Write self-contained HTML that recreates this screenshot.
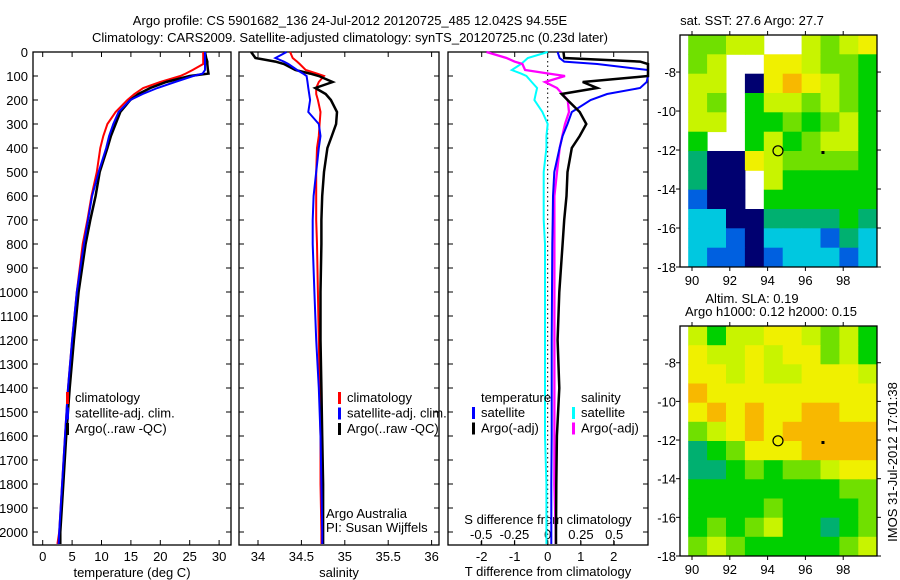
<!DOCTYPE html>
<html><head><meta charset="utf-8"><style>
body{margin:0;background:#fff;}
svg{display:block;font-family:"Liberation Sans",sans-serif;}
text{font-size:13px;fill:#000;}
</style></head><body>
<svg id="s" width="900" height="580" viewBox="0 0 900 580">
<text x="350" y="25" text-anchor="middle">Argo profile: CS 5901682_136 24-Jul-2012 20120725_485 12.042S 94.55E</text>
<text x="350" y="42" text-anchor="middle">Climatology: CARS2009. Satellite-adjusted climatology: synTS_20120725.nc (0.23d later)</text>
</svg>
<script>
const depths=[0,25,40,50,75,90,100,125,150,175,200,250,300,350,400,500,600,700,800,1000,1200,1400,1600,1800,2000,2050];
const tClim=[27.3,27.3,27.3,27.3,25.5,24.3,23.4,20.0,17.1,15.6,14.4,12.4,11.0,10.3,9.8,9.2,8.3,7.6,6.8,5.8,5.0,4.3,3.8,3.3,2.8,2.5];
const tSat=[27.6,27.6,27.6,27.6,27.6,27.2,25.6,22.5,19.5,17.0,14.9,12.9,12.0,11.3,10.8,9.5,8.4,7.7,7.0,5.8,5.0,4.3,3.8,3.3,2.8,2.7];
const tArgo=[27.6,27.8,28.0,28.0,28.1,28.2,25.0,21.0,18.3,16.3,14.9,13.2,12.4,11.6,11.0,9.7,9.0,8.1,7.3,6.1,5.3,4.6,4.0,3.5,3.0,3.0];
const sClim=[34.37,34.40,34.45,34.48,34.55,34.68,34.76,34.70,34.67,34.67,34.69,34.72,34.71,34.70,34.68,34.67,34.67,34.67,34.68,34.69,34.70,34.71,34.72,34.72,34.73,34.73];
const sSat=[34.33,34.20,34.30,34.35,34.45,34.52,34.56,34.57,34.58,34.59,34.60,34.58,34.70,34.72,34.70,34.67,34.64,34.63,34.63,34.65,34.67,34.70,34.72,34.73,34.74,34.74];
const sArgo=[33.92,33.97,34.20,34.30,34.43,34.60,34.70,34.86,34.66,34.78,34.84,34.91,34.90,34.85,34.80,34.76,34.74,34.73,34.73,34.72,34.72,34.73,34.74,34.75,34.75,34.75];
const dTSat=[0.3,0.36,0.5,1.5,3.2,3.2,3.2,3.0,2.8,1.8,1.3,0.73,0.6,0.45,0.36,0.2,0.16,0.15,0.14,0.13,0.12,0.12,0.12,0.11,0.11,0.11];
const dTArgo=[0.48,0.5,2.8,3.2,3.2,3.2,3.2,1.06,1.5,0.42,0.6,0.97,1.17,0.97,0.73,0.6,0.57,0.5,0.45,0.35,0.3,0.35,0.28,0.26,0.25,0.25];
const dSSat=[0,-0.15,-0.18,-0.2,-0.27,-0.2,-0.16,-0.12,-0.08,-0.09,-0.1,-0.04,0,-0.01,-0.01,-0.03,-0.03,-0.03,-0.02,-0.02,-0.02,-0.02,-0.02,-0.01,-0.01,-0.01];
const dSArgo=[-0.46,-0.31,-0.25,-0.19,-0.17,0.01,0.13,-0.02,0.07,0.11,0.15,0.16,0.13,0.11,0.09,0.07,0.05,0.05,0.05,0.05,0.05,0.05,0.05,0.05,0.06,0.06];
const depthTicks=[0,100,200,300,400,500,600,700,800,900,1000,1100,1200,1300,1400,1500,1600,1700,1800,1900,2000];
const tTicks=[0,5,10,15,20,25,30];
const sTicks=[34,34.5,35,35.5,36];
const dTTicks=[-2,-1,0,1,2];
const dSTicks=[-0.5,-0.25,0,0.25,0.5];
const dSLabels=["-0.5","-0.25","0","0.25","0.5"];
const lonTicks=[90,92,94,96,98];
const latTicks=[-8,-10,-12,-14,-16,-18];
const sstGrid=[
[5,5,6,6,-1,-1,6,5,6,7],[5,6,-1,-1,7,7,6,5,5,4],[6,6,-1,0,7,8,7,6,5,4],[6,5,-1,4,6,6,5,6,5,4],
[6,6,-1,4,4,5,4,5,6,4],[4,-1,-1,4,6,4,5,6,6,4],[3,0,0,7,6,5,5,5,5,4],[3,0,0,-1,6,4,4,4,4,4],
[1,0,0,-1,4,4,4,4,4,4],[2,2,0,0,3,3,3,3,4,3],[2,2,1,0,2,2,2,1,3,2],[2,1,1,0,1,2,2,2,1,2]];
const slaGrid=[
[6,4,6,6,7,7,6,5,6,4],[7,6,6,7,6,7,7,5,6,4],[7,7,6,7,6,6,7,7,7,6],[8,7,7,7,7,7,7,7,7,7],
[7,8,7,8,7,7,8,8,7,7],[5,6,7,8,7,8,8,8,8,8],[3,4,5,7,7,7,8,8,8,8],[3,3,4,5,4,5,5,6,7,7],
[4,4,4,4,4,4,4,4,5,5],[4,4,4,4,5,4,4,4,4,5],[4,5,4,5,6,4,4,3,4,5],[5,6,5,4,4,4,4,4,5,6]];
const argoLon=94.55, argoLat=-12.04;

const S=document.getElementById('s');const NS='http://www.w3.org/2000/svg';
function mk(t,a,txt){const e=document.createElementNS(NS,t);for(const k in a)e.setAttribute(k,a[k]);if(txt!==undefined)e.textContent=txt;S.appendChild(e);return e;}
const top0=52,bot=545;
const yD=d=>top0+d*0.24;
function frame(x0,x1,y0,y1,name){const r=mk('rect',{x:x0,y:y0,width:x1-x0,height:y1-y0,fill:'none',stroke:'#000','stroke-width':1.3});

}
function line(xs,ys,col,w,name,x0,x1){let d='';for(let i=0;i<xs.length;i++){let x=Math.max(x0,Math.min(x1,xs[i]));d+=(i?'L':'M')+x.toFixed(1)+' '+ys[i].toFixed(1);}
const p=mk('path',{d:d,fill:'none',stroke:col,'stroke-width':w,'stroke-linejoin':'miter'});

}
function depthAxis(x0,x1,labels){depthTicks.forEach(d=>{const y=yD(d);mk('line',{x1:x0,y1:y,x2:x0+5,y2:y,stroke:'#000'});mk('line',{x1:x1-5,y1:y,x2:x1,y2:y,stroke:'#000'});
if(labels){const t=mk('text',{x:x0-5,y:y+5,'text-anchor':'end'},d);

}});}
function xTicks(ticks,fx,labels,ly){ticks.forEach((v,i)=>{const x=fx(v);mk('line',{x1:x,y1:bot,x2:x,y2:bot-5,stroke:'#000'});mk('line',{x1:x,y1:top0,x2:x,y2:top0+5,stroke:'#000'});
const t=mk('text',{x:x,y:ly,'text-anchor':'middle'},labels?labels[i]:v);

});}
function legend(items,bx,ty){items.forEach((it,i)=>{const y=ty+i*15.5;mk('rect',{x:bx,y:y-10,width:3,height:12,fill:it[1]});
const t=mk('text',{x:bx+9,y:y},it[0]);

});}

// Panel 1 temperature
const xT=v=>42.7+v*5.88;
frame(33,231,top0,bot,'temperature-plot-frame');depthAxis(33,231,true);xTicks(tTicks,xT,null,561);
mk('text',{x:132,y:577,'text-anchor':'middle',},'temperature (deg C)');
const yy=depths.map(yD);
line(tClim.map(xT),yy,'#f00',2,'temp-climatology-line',33,231);
line(tArgo.map(xT),yy,'#000',2.5,'temp-argo-line',33,231);
line(tSat.map(xT),yy,'#00f',2,'temp-satellite-line',33,231);
legend([['climatology','#f00'],['satellite-adj. clim.','#00f'],['Argo(..raw -QC)','#000']],66,402);

// Panel 2 salinity
const xS=v=>258+(v-34)*86.8;
frame(239,439,top0,bot,'salinity-plot-frame');depthAxis(239,439,false);xTicks(sTicks,xS,null,561);
mk('text',{x:339,y:577,'text-anchor':'middle',},'salinity');
line(sClim.map(xS),yy,'#f00',2,'sal-climatology-line',239,439);
line(sArgo.map(xS),yy,'#000',2.5,'sal-argo-line',239,439);
line(sSat.map(xS),yy,'#00f',2,'sal-satellite-line',239,439);
legend([['climatology','#f00'],['satellite-adj. clim.','#00f'],['Argo(..raw -QC)','#000']],338,402);
mk('text',{x:326,y:518,},'Argo Australia');
mk('text',{x:326,y:532,},'PI: Susan Wijffels');

// Panel 3 differences
const xdT=v=>547.7+v*33;const xdS=v=>547.7+v*133;
frame(448,648,top0,bot,'difference-plot-frame');depthAxis(448,648,false);xTicks(dTTicks,xdT,null,561);
mk('line',{x1:xdT(0),y1:top0,x2:xdT(0),y2:bot,stroke:'#000','stroke-dasharray':'1.5,3'});
mk('text',{x:548,y:576,'text-anchor':'middle',},'T difference from climatology');
dSTicks.forEach((v,i)=>{const t=mk('text',{x:xdS(v),y:539,'text-anchor':'middle'},dSLabels[i]);


mk('line',{x1:xdS(v),y1:bot,x2:xdS(v),y2:bot-4,stroke:'#000'});});
mk('text',{x:548,y:524,'text-anchor':'middle',},'S difference from climatology');
line(dSSat.map(xdS),yy,'#0ff',2,'sal-diff-satellite-line',448,648);
line(dSArgo.map(xdS),yy,'#f0f',2.3,'sal-diff-argo-line',448,648);
line(dTSat.map(xdT),yy,'#00f',2,'temp-diff-satellite-line',448,648);
line(dTArgo.map(xdT),yy,'#000',2.5,'temp-diff-argo-line',448,648);
mk('text',{x:481,y:402,},'temperature');
mk('text',{x:581,y:402,},'salinity');
legend([['satellite','#00f'],['Argo(-adj)','#000']],472,417);
legend([['satellite','#0ff'],['Argo(-adj)','#f0f']],572,417);

// Maps
const cols=['#000070','#0060e0','#00c8e0','#00b070','#00d000','#70e000','#c8f400','#f0f000','#f8b800'];
function map(grid,y0,y1,name,xl){const x0=680,x1=877;const lonX=v=>692+(v-90)*18.9;const latY=v=>y0+(-6.1-v)*(y1-y0)/11.9;
const g0=89.8;
grid.forEach((row,r)=>row.forEach((c,k)=>{if(c<0)return;const xa=lonX(g0+k),xb=k==row.length-1?x1:lonX(g0+k+1);const ya=latY(-6.1-r*11.9/12),yb=latY(-6.1-(r+1)*11.9/12);
const e=mk('rect',{x:xa.toFixed(1),y:ya.toFixed(1),width:(xb-xa+0.5).toFixed(1),height:(yb-ya+0.5).toFixed(1),fill:cols[c]});

}));
frame(x0,x1,y0,y1,name+'-frame');
lonTicks.forEach(v=>{const x=lonX(v);mk('line',{x1:x,y1:y1,x2:x,y2:y1+4,stroke:'#000'});mk('line',{x1:x,y1:y0,x2:x,y2:y0-4,stroke:'#000'});
const t=mk('text',{x:x,y:y1+18,'text-anchor':'middle'},v);

});
latTicks.forEach(v=>{const y=latY(v);mk('line',{x1:x0-4,y1:y,x2:x0,y2:y,stroke:'#000'});mk('line',{x1:x1,y1:y,x2:x1+4,y2:y,stroke:'#000'});
const t=mk('text',{x:x0-4,y:y+5,'text-anchor':'end'},v);

});
const c=mk('circle',{cx:lonX(argoLon),cy:latY(argoLat),r:5,fill:'none',stroke:'#000','stroke-width':1.2});


mk('rect',{x:lonX(96.85),y:latY(-12.05),width:3,height:3,fill:'#000'});}
map(sstGrid,35,267,'sst-map');
mk('text',{x:752,y:25,'text-anchor':'middle',},'sat. SST: 27.6 Argo: 27.7');
map(slaGrid,326,556,'sla-map');
mk('text',{x:752,y:303,'text-anchor':'middle',},'Altim. SLA: 0.19');
mk('text',{x:771,y:316,'text-anchor':'middle',},'Argo h1000: 0.12 h2000: 0.15');
mk('text',{x:0,y:0,transform:'translate(897,462) rotate(-90)','text-anchor':'middle',},'IMOS 31-Jul-2012 17:01:38');
</script>
</body></html>
